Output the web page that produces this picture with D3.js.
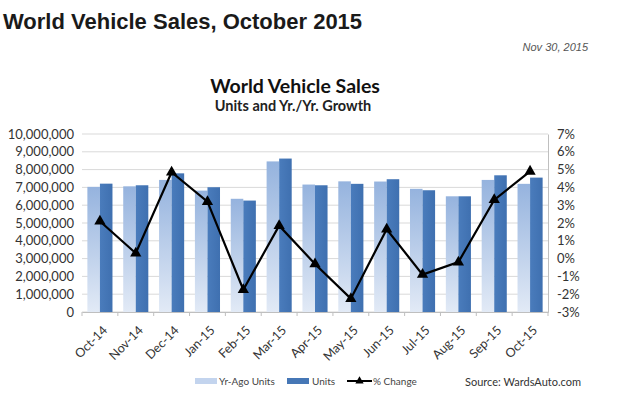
<!DOCTYPE html>
<html>
<head>
<meta charset="utf-8">
<script src="https://cdn.jsdelivr.net/npm/d3@7"></script>
<style>
  body { margin: 0; background: #fff; }
  svg text { font-family: Lato, "Open Sans", sans-serif; }
</style>
</head>
<body>
<svg width="620" height="396"></svg>
<script>
const months = ['Oct-14', 'Nov-14', 'Dec-14', 'Jan-15', 'Feb-15', 'Mar-15', 'Apr-15',
  'May-15', 'Jun-15', 'Jul-15', 'Aug-15', 'Sep-15', 'Oct-15'];
const yrAgoUnits = [7030000, 7060000, 7420000, 6820000, 6360000, 8460000, 7160000,
  7340000, 7330000, 6920000, 6500000, 7420000, 7200000];
const units = [7210000, 7120000, 7790000, 7010000, 6260000, 8620000, 7120000,
  7200000, 7460000, 6840000, 6500000, 7680000, 7550000];
const pctChange = [2.1, 0.3, 4.85, 3.2, -1.75, 1.85, -0.3,
  -2.25, 1.65, -0.9, -0.2, 3.3, 4.9];
const leftTicks = d3.range(0, 10000001, 1000000);
const rightTicks = d3.range(-3, 8, 1);

const svg = d3.select('svg');
const MARGIN = { TOP: 134, RIGHT: 72, BOTTOM: 84, LEFT: 82 };
const WIDTH = +svg.attr('width') - MARGIN.LEFT - MARGIN.RIGHT;
const HEIGHT = +svg.attr('height') - MARGIN.TOP - MARGIN.BOTTOM;

// page titles
svg.append('text')
  .attr('x', 3).attr('y', 29)
  .style('font-family', '"Liberation Sans", Arial, sans-serif')
  .style('font-size', '22px').style('font-weight', 'bold')
  .attr('fill', '#1a1a1a')
  .text('World Vehicle Sales, October 2015');

svg.append('text')
  .attr('x', 588).attr('y', 51)
  .attr('text-anchor', 'end')
  .style('font-family', '"Liberation Sans", Arial, sans-serif')
  .style('font-size', '11px').style('font-style', 'italic')
  .attr('fill', '#555')
  .text('Nov 30, 2015');

svg.append('text')
  .attr('x', 295).attr('y', 93)
  .attr('text-anchor', 'middle')
  .style('font-size', '19.5px').style('font-weight', 'bold')
  .attr('fill', '#111')
  .text('World Vehicle Sales');

svg.append('text')
  .attr('x', 293).attr('y', 111)
  .attr('text-anchor', 'middle')
  .style('font-size', '14.5px').style('font-weight', 'bold')
  .attr('fill', '#222')
  .text('Units and Yr./Yr. Growth');

// gradients
const defs = svg.append('defs');
const g1 = defs.append('linearGradient').attr('id', 'yrago')
  .attr('x1', 0).attr('y1', 0).attr('x2', 0).attr('y2', 1);
g1.append('stop').attr('offset', '0%').attr('stop-color', '#95b3de');
g1.append('stop').attr('offset', '100%').attr('stop-color', '#e2eaf6');
const g2 = defs.append('linearGradient').attr('id', 'units')
  .attr('x1', 0).attr('y1', 0).attr('x2', 1).attr('y2', 0);
g2.append('stop').attr('offset', '0%').attr('stop-color', '#4a7cbc');
g2.append('stop').attr('offset', '100%').attr('stop-color', '#3f70b0');

const g = svg.append('g')
  .attr('transform', `translate(${MARGIN.LEFT}, ${MARGIN.TOP})`);

// scales
const x = d3.scaleBand().domain(months).range([0, WIDTH]).paddingInner(0.3).paddingOuter(0.15);
const xOuter = d3.scaleBand().domain(months).range([0, WIDTH]);
const xs = d3.scaleBand().domain(['yrago', 'units']).range([0, x.bandwidth()]).padding(0);
const y = d3.scaleLinear().domain([0, 10000000]).range([HEIGHT, 0]);
const y2 = d3.scaleLinear().domain([-3, 7]).range([HEIGHT, 0]);

// gridlines
g.append('g')
  .selectAll('line')
  .data(leftTicks)
  .enter()
  .append('line')
  .attr('x1', 0).attr('x2', WIDTH)
  .attr('y1', d => y(d)).attr('y2', d => y(d))
  .attr('stroke', '#d9d9d9');

// bars
const group = g.selectAll('.month')
  .data(months)
  .enter()
  .append('g')
  .attr('class', 'month')
  .attr('transform', d => `translate(${x(d)},0)`);

group.append('rect')
  .attr('x', xs('yrago'))
  .attr('y', (d, i) => y(yrAgoUnits[i]))
  .attr('width', xs.bandwidth())
  .attr('height', (d, i) => HEIGHT - y(yrAgoUnits[i]))
  .attr('fill', 'url(#yrago)');

group.append('rect')
  .attr('x', xs('units'))
  .attr('y', (d, i) => y(units[i]))
  .attr('width', xs.bandwidth())
  .attr('height', (d, i) => HEIGHT - y(units[i]))
  .attr('fill', 'url(#units)');

// x axis
const xAxis = g.append('g')
  .attr('transform', `translate(0,${HEIGHT})`)
  .call(d3.axisBottom(xOuter).tickSize(0).tickPadding(8));
xAxis.select('.domain').attr('stroke', '#bfbfbf');
xAxis.selectAll('text')
  .style('font-size', '12.5px')
  .attr('fill', '#333')
  .attr('text-anchor', 'end')
  .attr('x', 0).attr('y', 0)
  .attr('dy', '0.35em')
  .attr('transform', 'translate(5,16) rotate(-45)');

// small ticks between categories
g.append('g')
  .selectAll('line')
  .data(d3.range(months.length + 1))
  .enter()
  .append('line')
  .attr('x1', i => i * xOuter.step()).attr('x2', i => i * xOuter.step())
  .attr('y1', HEIGHT).attr('y2', HEIGHT + 4)
  .attr('stroke', '#bfbfbf');

// left axis
const yAxis = g.append('g')
  .call(d3.axisLeft(y).tickValues(leftTicks).tickSize(0).tickPadding(8).tickFormat(d3.format(',')));
yAxis.select('.domain').remove();
yAxis.selectAll('text').style('font-size', '13px').attr('fill', '#333');

// right axis
const y2Axis = g.append('g')
  .attr('transform', `translate(${WIDTH},0)`)
  .call(d3.axisRight(y2).tickValues(rightTicks).tickSize(0).tickPadding(9).tickFormat(d => d + '%'));
y2Axis.select('.domain').attr('stroke', '#bfbfbf');
y2Axis.selectAll('text').style('font-size', '13px').attr('fill', '#333');

// % change line
const cx = d => xOuter(d) + xOuter.bandwidth() / 2;
const line = d3.line()
  .x((d, i) => cx(months[i]))
  .y(d => y2(d));

g.append('path')
  .datum(pctChange)
  .attr('fill', 'none')
  .attr('stroke', '#000')
  .attr('stroke-width', 2.2)
  .attr('d', line);

const tri = d3.symbol().type(d3.symbolTriangle).size(55);
g.selectAll('.marker')
  .data(pctChange)
  .enter()
  .append('path')
  .attr('class', 'marker')
  .attr('transform', (d, i) => `translate(${cx(months[i])},${y2(d)})`)
  .attr('d', tri)
  .attr('fill', '#000');

// legend
const legend = svg.append('g').attr('transform', 'translate(0,381)');
legend.append('rect').attr('x', 195).attr('y', -3).attr('width', 22).attr('height', 6).attr('fill', '#c3d4ee');
legend.append('text').attr('x', 219).attr('y', 4).style('font-size', '10px').attr('fill', '#444').text('Yr-Ago Units');
legend.append('rect').attr('x', 287).attr('y', -3).attr('width', 22).attr('height', 6).attr('fill', '#4677b6');
legend.append('text').attr('x', 312).attr('y', 4).style('font-size', '10px').attr('fill', '#444').text('Units');
legend.append('line').attr('x1', 347).attr('x2', 372).attr('y1', 0).attr('y2', 0).attr('stroke', '#000').attr('stroke-width', 2);
legend.append('path').attr('transform', 'translate(359.5,0)').attr('d', d3.symbol().type(d3.symbolTriangle).size(30)).attr('fill', '#000');
legend.append('text').attr('x', 373).attr('y', 4).style('font-size', '10px').attr('fill', '#444').text('% Change');

svg.append('text')
  .attr('x', 465).attr('y', 386)
  .style('font-size', '11px')
  .attr('fill', '#333')
  .text('Source: WardsAuto.com');
</script>
</body>
</html>
